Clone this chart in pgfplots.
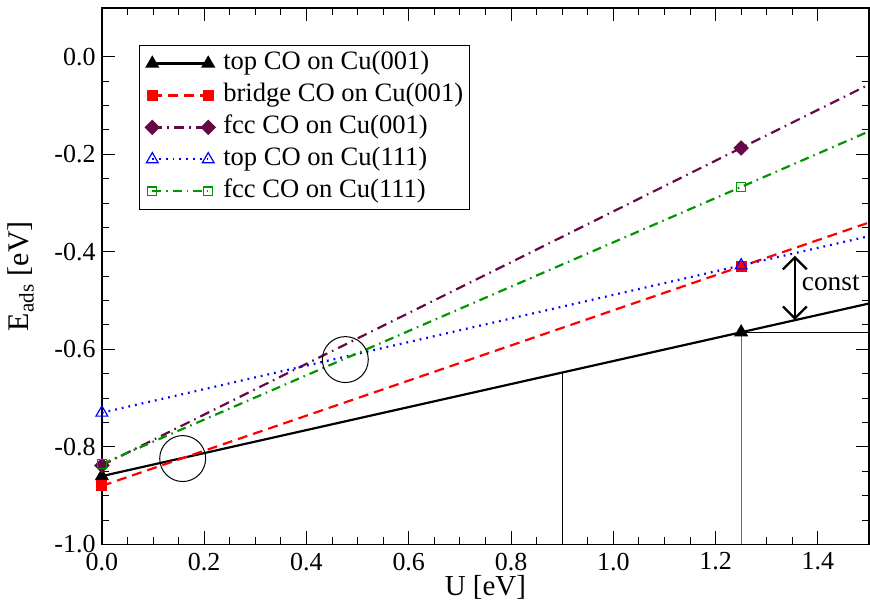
\documentclass[border=0pt]{standalone}
\usepackage{fontspec}
\setmainfont{Liberation Serif}
\usepackage{pgfplots}
\pgfplotsset{compat=1.18}
\usetikzlibrary{arrows.meta}
\definecolor{cmaroon}{RGB}{103,7,72}
\definecolor{cgreen}{RGB}{0,150,0}
\begin{document}
\begin{tikzpicture}
\begin{axis}[
  scale only axis, width=384pt, height=268.5pt,
  xmin=0, xmax=1.5, ymin=-1, ymax=0.1,
  xtick={0,0.2,0.4,0.6,0.8,1.0,1.2,1.4},
  xticklabels={0.0,0.2,0.4,0.6,0.8,1.0,1.2,1.4},
  ytick={-1,-0.8,-0.6,-0.4,-0.2,0},
  yticklabels={-1.0,-0.8,-0.6,-0.4,-0.2,0.0},
  minor x tick num=3, minor y tick num=3,
  tick align=inside, major tick length=6.5pt, minor tick length=3.5pt,
  every tick/.style={black, line width=0.5pt},
  axis line style={line width=0.8pt},
  tick label style={font=\fontsize{13}{15}\selectfont},
  xticklabel style={inner sep=4pt},
  yticklabel style={inner sep=3pt},
  xlabel={U [eV]},
  xlabel style={at={(axis description cs:0.5,0)}, anchor=base, yshift=-25.8pt, font=\fontsize{14.5}{17}\selectfont},
  ylabel={E\textsubscript{ads} [eV]},
  ylabel style={at={([xshift=-36.5pt]axis description cs:0,0.5)}, anchor=base, font=\fontsize{15}{18}\selectfont},
  legend cell align=left,
  legend style={at={(axis description cs:0.048,0.931)}, anchor=north west, draw=black, line width=0.5pt,
    font=\fontsize{13.3}{16}\selectfont, inner sep=1pt, row sep=0pt,
    nodes={inner sep=2pt, text height=9pt, text depth=3pt}},
  legend image code/.code={\path (-5pt,0pt) (33pt,0pt);\draw[mark repeat=1,mark phase=1] plot coordinates {(0pt,0pt) (28pt,0pt)};},
]
\addplot[black, line width=1.1pt, mark=triangle*, mark size=3pt, mark indices={1,2}, mark options={solid}]
  coordinates {(0,-0.86) (1.25,-0.565) (1.5,-0.506)};
\addlegendentry{top CO on Cu(001)}
\addplot[red, line width=1.1pt, dash pattern=on 5pt off 3pt, mark=square*, mark size=2.2pt, mark indices={1,2}, mark options={solid}]
  coordinates {(0,-0.88) (1.25,-0.43) (1.5,-0.34)};
\addlegendentry{bridge CO on Cu(001)}
\addplot[cmaroon, line width=1.1pt, dash pattern=on 5pt off 2.6pt on 0.8pt off 2.6pt, mark=square*, mark size=2.2pt, mark indices={1,2}, mark options={solid, rotate=45}]
  coordinates {(0,-0.838) (1.25,-0.187) (1.5,-0.057)};
\addlegendentry{fcc CO on Cu(001)}
\addplot[blue, line width=1.1pt, dash pattern=on 0.9pt off 2.5pt, mark=triangle, mark size=3.4pt, mark indices={1,2}, mark options={solid, line width=0.6pt}]
  coordinates {(0,-0.73) (1.25,-0.428) (1.5,-0.368)};
\addlegendentry{top CO on Cu(111)}
\addplot[cgreen, line width=1.1pt, dash pattern=on 4.5pt off 2.5pt on 0.8pt off 2.5pt, mark=square, mark size=2.2pt, mark indices={1,2}, mark options={solid, line width=0.6pt}]
  coordinates {(0,-0.835) (1.25,-0.267) (1.5,-0.153)};
\addlegendentry{fcc CO on Cu(111)}
\draw[line width=0.5pt] (axis cs:0.9,-1) -- (axis cs:0.9,-0.6476);
\draw[line width=0.6pt, black!60] (axis cs:1.25,-1) -- (axis cs:1.25,-0.565);
\draw[line width=0.5pt] (axis cs:1.25,-0.565) -- (axis cs:1.5,-0.565);
\draw[line width=1.2pt, {Straight Barb[length=6pt,width=12pt]}-{Straight Barb[length=6pt,width=12pt]}] (axis cs:1.355,-0.408) -- (axis cs:1.355,-0.54);
\node[anchor=west, inner sep=0pt, font=\fontsize{13.7}{16}\selectfont] at (axis cs:1.368,-0.463) {const};
\draw[line width=0.5pt] (axis cs:0.158,-0.824) circle[radius=11.5pt];
\draw[line width=0.5pt] (axis cs:0.476,-0.621) circle[radius=11.5pt];
\end{axis}
\pgfresetboundingbox
\useasboundingbox (-51pt,-28.5pt) rectangle (384.5pt,272.5pt);
\end{tikzpicture}
\end{document}
